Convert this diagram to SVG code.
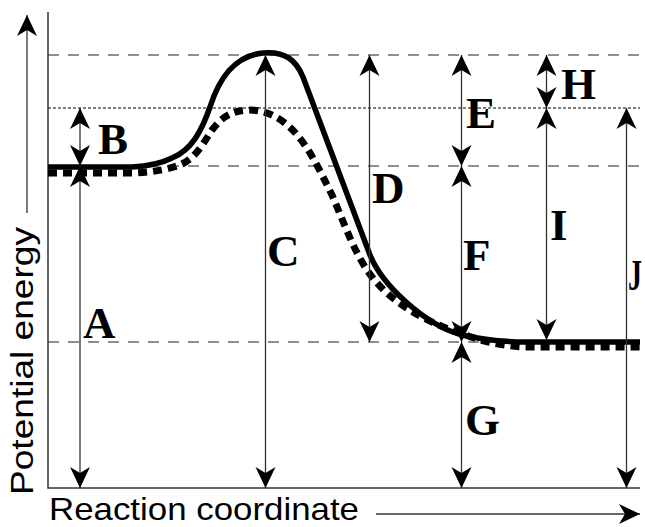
<svg xmlns="http://www.w3.org/2000/svg" width="645" height="527" viewBox="0 0 645 527">
<style>
.axis{stroke:#333;stroke-width:1.5;fill:none}
.dash{stroke:#6a6a6a;stroke-width:1.3;stroke-dasharray:11 9;fill:none}
.dot{stroke:#000;stroke-width:1;stroke-dasharray:3 2;fill:none}
.arr{stroke:#333;stroke-width:1.3;fill:none;marker-start:url(#ah);marker-end:url(#ah)}
.arr1{stroke:#333;stroke-width:1.3;fill:none;marker-end:url(#ah)}
.lbl{font-family:"Liberation Serif","Times New Roman",serif;font-weight:bold;font-size:45px;fill:#000}
.ax{font-family:"Liberation Sans",Arial,sans-serif;font-size:32px;fill:#000}
</style>
<defs>
<marker id="ah" viewBox="-22 -11 23 22" refX="0" refY="0" markerWidth="23" markerHeight="22" markerUnits="userSpaceOnUse" orient="auto-start-reverse">
<path d="M0,0 L-21,-10 L-15,0 L-21,10 Z" fill="#000"/>
</marker>
</defs>
<rect width="645" height="527" fill="#fff"/>
<g id="guides">
<line class="dash" x1="48" y1="55" x2="640" y2="55"/>
<line class="dot" x1="48" y1="108" x2="640" y2="108"/>
<line class="dash" x1="48" y1="166" x2="640" y2="166"/>
<line class="dash" x1="48" y1="342" x2="640" y2="342"/>
</g>
<g id="axes">
<polyline class="axis" points="48,12 48,488 640,488"/>
<line class="arr1" x1="27" y1="213" x2="27" y2="15"/>
<line class="arr1" x1="376" y1="514" x2="640" y2="514"/>
<text class="ax" transform="translate(33,495) rotate(-90)" textLength="268" lengthAdjust="spacingAndGlyphs" font-size="31">Potential energy</text>
<text class="ax" x="49" y="520" textLength="310" lengthAdjust="spacingAndGlyphs">Reaction coordinate</text>
</g>
<g id="curves">
<path d="M48,173 L135,173 C155,172 170,169 182,164 C198,156 205,140 212,130 C222,117 232,110 250,110 C268,110 285,120 298,136 C312,153 322,175 332,195 C345,225 355,255 372,277 C390,300 420,320 460,333 C478,340 500,346 525,347 L640,347" fill="none" stroke="#000" stroke-width="7" stroke-dasharray="9 6"/>
<path d="M48,167 L132,167 C150,166 162,163 172,158 C192,150 202,130 210,107 C218,82 232,56 263,53 C285,51 296,60 303,77 C309,93 355,215 370,255 C382,285 425,325 462,335 C480,339 500,342 525,342 L640,342" fill="none" stroke="#000" stroke-width="5.5"/>
</g>
<g id="connectors">
<line class="arr" x1="80" y1="108" x2="80" y2="166"/>
<line class="arr" x1="80" y1="166" x2="80" y2="488"/>
<line class="arr" x1="265.5" y1="55" x2="265.5" y2="488"/>
<line class="arr" x1="369.5" y1="55" x2="369.5" y2="342"/>
<line class="arr" x1="461.5" y1="55" x2="461.5" y2="166"/>
<line class="arr" x1="461.5" y1="166" x2="461.5" y2="342"/>
<line class="arr" x1="461.5" y1="342" x2="461.5" y2="488"/>
<line class="arr" x1="546.5" y1="55" x2="546.5" y2="108"/>
<line class="arr" x1="546.5" y1="108" x2="546.5" y2="340"/>
<line class="arr" x1="626.5" y1="108" x2="626.5" y2="488"/>
</g>
<g id="label-A"><text class="lbl" x="83" y="338">A</text></g>
<g id="label-B"><text class="lbl" x="98" y="154">B</text></g>
<g id="label-C"><text class="lbl" x="267" y="266">C</text></g>
<g id="label-D"><text class="lbl" x="372" y="203">D</text></g>
<g id="label-E"><text class="lbl" x="466" y="128">E</text></g>
<g id="label-F"><text class="lbl" x="463" y="270">F</text></g>
<g id="label-G"><text class="lbl" x="465" y="435">G</text></g>
<g id="label-H"><text class="lbl" x="561" y="99">H</text></g>
<g id="label-I"><text class="lbl" x="550" y="240">I</text></g>
<g id="label-J"><text class="lbl" x="628" y="290" textLength="14" lengthAdjust="spacingAndGlyphs">J</text></g>
</svg>
